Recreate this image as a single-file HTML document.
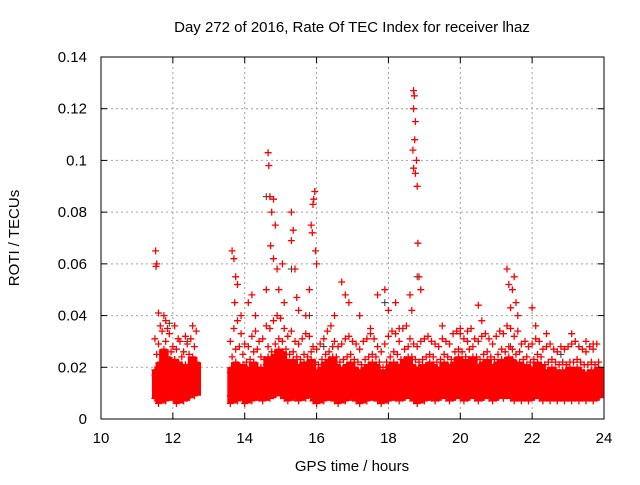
<!DOCTYPE html>
<html><head><meta charset="utf-8"><style>
html,body{margin:0;padding:0;background:#fff;}
svg text{font-family:"Liberation Sans",sans-serif;fill:#000;}
</style></head><body>
<svg id="chart" width="640" height="480" viewBox="0 0 640 480" xmlns="http://www.w3.org/2000/svg">
<rect width="640" height="480" fill="#fff"/>
<text x="352" y="32" font-size="15" text-anchor="middle">Day 272 of 2016, Rate Of TEC Index for receiver lhaz</text>
<g id="grid"></g>
<g id="marks"></g>
<g id="axes"></g>
<text x="352" y="471" font-size="15" text-anchor="middle">GPS time / hours</text>
<text x="19" y="238" font-size="15" text-anchor="middle" transform="rotate(-90 19 238)">ROTI / TECUs</text>
</svg>
<script>
const xTicks = [10,12,14,16,18,20,22,24];
const yTicks = [0,0.02,0.04,0.06,0.08,0.1,0.12,0.14];
const yTickLabels = ["0","0.02","0.04","0.06","0.08","0.1","0.12","0.14"];
const segStarts = [11.5, 13.6];
const segStep = 0.1;
const segA = [
[0.008,0.014,0.019,0.025,0.031,0.012,0.017,0.010],
[0.006,0.011,0.017,0.022,0.029,0.036,0.014,0.020],
[0.009,0.015,0.021,0.027,0.034,0.040,0.012,0.018],
[0.007,0.013,0.018,0.024,0.030,0.035,0.016,0.010],
[0.010,0.016,0.020,0.026,0.033,0.012,0.014,0.022],
[0.008,0.012,0.019,0.023,0.028,0.036,0.015,0.011],
[0.006,0.014,0.017,0.022,0.027,0.031,0.010,0.019],
[0.009,0.013,0.018,0.024,0.030,0.011,0.016,0.021],
[0.007,0.011,0.016,0.021,0.026,0.032,0.013,0.018],
[0.008,0.015,0.020,0.025,0.029,0.013,0.017,0.011],
[0.010,0.014,0.019,0.024,0.031,0.036,0.012,0.016],
[0.009,0.013,0.017,0.022,0.028,0.034,0.015,0.020]];
const segB = [
[0.006,0.012,0.018,0.024,0.030,0.014,0.009,0.020],
[0.008,0.013,0.019,0.027,0.035,0.016,0.011,0.022],
[0.007,0.015,0.021,0.028,0.038,0.012,0.010,0.018],
[0.009,0.014,0.018,0.025,0.033,0.017,0.012,0.021],
[0.006,0.011,0.016,0.022,0.029,0.013,0.019,0.009],
[0.008,0.012,0.017,0.023,0.028,0.015,0.010,0.020],
[0.007,0.013,0.019,0.026,0.032,0.016,0.011,0.022],
[0.009,0.014,0.020,0.027,0.034,0.012,0.017,0.010],
[0.008,0.012,0.018,0.024,0.030,0.015,0.011,0.020],
[0.007,0.011,0.017,0.023,0.031,0.014,0.009,0.019],
[0.010,0.015,0.021,0.028,0.036,0.018,0.012,0.024],
[0.008,0.014,0.020,0.026,0.035,0.016,0.011,0.022],
[0.009,0.016,0.022,0.029,0.038,0.013,0.019,0.025],
[0.010,0.017,0.024,0.031,0.040,0.015,0.020,0.027],
[0.009,0.016,0.023,0.030,0.039,0.014,0.019,0.026],
[0.008,0.014,0.020,0.027,0.035,0.012,0.017,0.023],
[0.007,0.013,0.019,0.025,0.032,0.011,0.016,0.022],
[0.009,0.015,0.020,0.026,0.034,0.013,0.018,0.023],
[0.008,0.013,0.018,0.024,0.030,0.012,0.016,0.021],
[0.007,0.012,0.017,0.023,0.029,0.010,0.015,0.020],
[0.009,0.014,0.019,0.025,0.031,0.012,0.017,0.022],
[0.008,0.013,0.018,0.024,0.033,0.011,0.016,0.021],
[0.010,0.015,0.020,0.026,0.032,0.013,0.018,0.023],
[0.007,0.012,0.017,0.022,0.028,0.010,0.015,0.019],
[0.006,0.011,0.016,0.021,0.027,0.013,0.009,0.018],
[0.008,0.013,0.018,0.023,0.029,0.011,0.015,0.020],
[0.007,0.012,0.019,0.025,0.031,0.014,0.010,0.022],
[0.009,0.014,0.020,0.026,0.034,0.012,0.017,0.023],
[0.008,0.015,0.021,0.028,0.036,0.013,0.018,0.024],
[0.007,0.012,0.018,0.024,0.030,0.011,0.015,0.021],
[0.006,0.011,0.016,0.022,0.028,0.013,0.009,0.019],
[0.008,0.013,0.017,0.023,0.029,0.011,0.015,0.020],
[0.007,0.012,0.018,0.024,0.031,0.014,0.010,0.021],
[0.009,0.014,0.019,0.025,0.032,0.012,0.016,0.022],
[0.008,0.013,0.018,0.023,0.030,0.011,0.015,0.020],
[0.007,0.012,0.017,0.022,0.029,0.010,0.014,0.019],
[0.006,0.011,0.016,0.021,0.027,0.013,0.009,0.018],
[0.008,0.012,0.017,0.023,0.030,0.011,0.015,0.020],
[0.007,0.013,0.018,0.024,0.031,0.014,0.010,0.021],
[0.009,0.014,0.019,0.025,0.033,0.012,0.016,0.022],
[0.008,0.013,0.018,0.024,0.031,0.011,0.015,0.021],
[0.007,0.012,0.016,0.022,0.028,0.010,0.014,0.019],
[0.006,0.011,0.015,0.020,0.026,0.012,0.009,0.017],
[0.008,0.012,0.017,0.022,0.029,0.011,0.014,0.019],
[0.007,0.013,0.018,0.024,0.032,0.014,0.010,0.021],
[0.009,0.014,0.019,0.026,0.034,0.012,0.016,0.022],
[0.008,0.013,0.018,0.025,0.033,0.011,0.015,0.021],
[0.007,0.012,0.017,0.023,0.030,0.010,0.015,0.020],
[0.008,0.014,0.020,0.027,0.035,0.012,0.017,0.023],
[0.009,0.015,0.021,0.028,0.036,0.013,0.018,0.024],
[0.008,0.013,0.018,0.024,0.031,0.011,0.016,0.021],
[0.007,0.012,0.017,0.023,0.029,0.010,0.015,0.020],
[0.006,0.011,0.016,0.022,0.028,0.013,0.009,0.019],
[0.008,0.013,0.018,0.023,0.030,0.011,0.015,0.021],
[0.007,0.012,0.017,0.024,0.031,0.014,0.010,0.020],
[0.009,0.014,0.019,0.025,0.032,0.012,0.016,0.022],
[0.008,0.013,0.018,0.024,0.030,0.011,0.015,0.021],
[0.007,0.012,0.017,0.022,0.029,0.010,0.014,0.019],
[0.008,0.013,0.018,0.023,0.028,0.012,0.015,0.020],
[0.009,0.014,0.019,0.025,0.031,0.013,0.016,0.022],
[0.008,0.013,0.018,0.024,0.030,0.011,0.015,0.021],
[0.007,0.012,0.017,0.023,0.029,0.010,0.014,0.020],
[0.008,0.014,0.020,0.026,0.033,0.012,0.017,0.022],
[0.009,0.015,0.021,0.027,0.034,0.013,0.018,0.024],
[0.008,0.014,0.019,0.026,0.033,0.012,0.017,0.023],
[0.007,0.013,0.018,0.024,0.031,0.011,0.016,0.021],
[0.008,0.014,0.020,0.027,0.034,0.012,0.017,0.023],
[0.009,0.015,0.021,0.028,0.035,0.013,0.018,0.024],
[0.008,0.013,0.018,0.024,0.031,0.011,0.016,0.021],
[0.007,0.012,0.017,0.023,0.030,0.010,0.015,0.020],
[0.008,0.013,0.019,0.025,0.032,0.012,0.016,0.022],
[0.009,0.014,0.020,0.026,0.033,0.013,0.017,0.023],
[0.008,0.013,0.018,0.024,0.031,0.011,0.016,0.021],
[0.007,0.012,0.017,0.023,0.029,0.010,0.015,0.020],
[0.008,0.014,0.019,0.025,0.032,0.012,0.016,0.022],
[0.009,0.015,0.020,0.027,0.034,0.013,0.018,0.023],
[0.008,0.014,0.019,0.026,0.033,0.012,0.017,0.022],
[0.009,0.015,0.021,0.028,0.036,0.013,0.018,0.024],
[0.008,0.014,0.020,0.027,0.035,0.012,0.017,0.023],
[0.007,0.013,0.018,0.025,0.032,0.011,0.016,0.021],
[0.008,0.014,0.019,0.026,0.034,0.012,0.017,0.022],
[0.007,0.012,0.017,0.023,0.029,0.010,0.015,0.020],
[0.008,0.013,0.018,0.024,0.030,0.011,0.016,0.021],
[0.007,0.012,0.017,0.022,0.028,0.010,0.014,0.019],
[0.008,0.013,0.018,0.023,0.029,0.011,0.015,0.020],
[0.009,0.014,0.019,0.025,0.031,0.012,0.016,0.022],
[0.008,0.013,0.018,0.024,0.030,0.011,0.015,0.021],
[0.007,0.012,0.016,0.021,0.027,0.010,0.014,0.018],
[0.008,0.012,0.017,0.022,0.028,0.011,0.015,0.019],
[0.007,0.013,0.018,0.023,0.029,0.010,0.015,0.020],
[0.008,0.012,0.017,0.022,0.027,0.011,0.014,0.019],
[0.007,0.011,0.016,0.021,0.026,0.010,0.013,0.018],
[0.008,0.012,0.017,0.022,0.028,0.011,0.015,0.019],
[0.007,0.012,0.016,0.021,0.027,0.010,0.014,0.018],
[0.008,0.013,0.017,0.022,0.028,0.011,0.015,0.020],
[0.007,0.012,0.016,0.022,0.029,0.010,0.014,0.019],
[0.008,0.013,0.018,0.023,0.030,0.011,0.015,0.020],
[0.007,0.012,0.017,0.022,0.028,0.010,0.014,0.019],
[0.008,0.012,0.016,0.021,0.027,0.011,0.014,0.018],
[0.007,0.011,0.016,0.021,0.026,0.010,0.013,0.018],
[0.008,0.012,0.017,0.022,0.028,0.011,0.015,0.019],
[0.007,0.012,0.016,0.021,0.027,0.010,0.014,0.018],
[0.008,0.013,0.017,0.022,0.029,0.011,0.015,0.020]];
const outX = [11.52,11.55,11.53,11.6,11.8,13.65,13.7,13.75,13.8,13.72,13.9,14.1,14.2,14.3,
14.65,14.67,14.7,14.8,14.75,14.85,14.72,14.8,14.9,14.6,14.95,15.05,15.1,
15.3,15.35,15.3,15.4,15.45,15.5,15.85,15.9,15.95,15.92,15.88,15.97,16.0,15.8,15.7,
16.5,16.7,16.8,16.9,17.2,17.5,17.7,17.9,18.0,18.2,18.3,
18.6,18.65,18.7,18.72,18.7,18.75,18.73,18.78,18.7,18.75,18.8,18.82,18.85,18.9,18.68,
19.5,20.0,20.2,20.5,20.6,21.3,21.35,21.45,21.5,21.55,21.6,21.4,22.0,22.1,22.4,23.1,23.5,23.7];
const outY = [0.065,0.060,0.059,0.041,0.038,0.065,0.062,0.055,0.052,0.045,0.040,0.045,0.048,0.040,
0.103,0.098,0.086,0.085,0.080,0.075,0.067,0.062,0.058,0.050,0.050,0.060,0.045,
0.080,0.073,0.069,0.058,0.047,0.042,0.075,0.083,0.088,0.085,0.072,0.065,0.060,0.050,0.040,
0.040,0.053,0.048,0.045,0.040,0.035,0.048,0.050,0.042,0.045,0.035,
0.048,0.042,0.127,0.125,0.120,0.115,0.108,0.100,0.097,0.095,0.090,0.068,0.055,0.050,0.104,
0.036,0.035,0.030,0.044,0.038,0.058,0.052,0.050,0.055,0.045,0.040,0.043,0.043,0.036,0.033,0.033,0.030,0.029];
const darkX = [11.9,12.4,14.6,15.3,15.8,16.2,17.9,18.8,20.2,21.4,22.8];
const darkY = [0.037,0.030,0.086,0.058,0.040,0.028,0.045,0.055,0.030,0.028,0.025];

const L=101,R=604,T=57,B=419;
const xs=v=>L+(v-10)/14*(R-L);
const ys=v=>B-v/0.14*(B-T);
const NS="http://www.w3.org/2000/svg";
const grid=document.getElementById('grid'),axes=document.getElementById('axes'),marks=document.getElementById('marks');
function mk(tag,attrs,parent){const e=document.createElementNS(NS,tag);for(const k in attrs)e.setAttribute(k,attrs[k]);parent.appendChild(e);return e;}
xTicks.forEach((t,i)=>{
  const x=xs(t);
  if(i>0&&i<xTicks.length-1){
    const g=mk('line',{x1:x,x2:x,y1:T,y2:B,stroke:'#a0a0a0','stroke-dasharray':'2,3'},grid);
    
    
  }
  mk('line',{x1:x,x2:x,y1:B,y2:B-6,stroke:'#000'},axes);
  mk('line',{x1:x,x2:x,y1:T,y2:T+6,stroke:'#000'},axes);
  const tx=mk('text',{x:x,y:B+24,'font-size':15,'text-anchor':'middle'},axes);
  tx.textContent=t;
  
  
});
yTicks.forEach((t,i)=>{
  const y=ys(t);
  if(i>0&&i<yTicks.length-1){
    const g=mk('line',{x1:L,x2:R,y1:y,y2:y,stroke:'#a0a0a0','stroke-dasharray':'2,3'},grid);
    
    
  }
  mk('line',{x1:L,x2:L+6,y1:y,y2:y,stroke:'#000'},axes);
  mk('line',{x1:R,x2:R-6,y1:y,y2:y,stroke:'#000'},axes);
  const tx=mk('text',{x:L-14,y:y+5,'font-size':15,'text-anchor':'end'},axes);
  tx.textContent=yTickLabels[i];
  
  
});
const frame=mk('rect',{x:L,y:T,width:R-L,height:B-T,fill:'none',stroke:'#000','stroke-width':1},axes);



let dRed='',dDark='',dCore='';
const plus=(x,y)=>`M${(x-3.5).toFixed(1)} ${y.toFixed(1)}h7M${x.toFixed(1)} ${(y-3.5).toFixed(1)}v7`;
[segA,segB].forEach((seg,si)=>{
  seg.forEach((row,ri)=>{
    const t=segStarts[si]+ri*segStep;
    const s=row.slice().sort((a,b)=>a-b);
    const x0=xs(t)-3, x1=xs(t+segStep)+3;
    const y0=ys(s[5]), y1=ys(s[0]);
    dCore+=`M${x0.toFixed(1)} ${y0.toFixed(1)}H${x1.toFixed(1)}V${y1.toFixed(1)}H${x0.toFixed(1)}Z`;
    row.forEach((v,vi)=>{dRed+=plus(xs(t+(vi%2)*0.05),ys(v));});
  });
});
outX.forEach((t,i)=>{dRed+=plus(xs(t),ys(outY[i]));});
darkX.forEach((t,i)=>{dDark+=plus(xs(t),ys(darkY[i]));});

const pc=mk('path',{d:dCore,fill:'#ff0000',stroke:'none'},marks);


const pd=mk('path',{d:dDark,stroke:'#333',fill:'none','stroke-width':1},marks);


const pr=mk('path',{d:dRed,stroke:'#ff0000',fill:'none','stroke-width':1.3},marks);


</script>
</body></html>
